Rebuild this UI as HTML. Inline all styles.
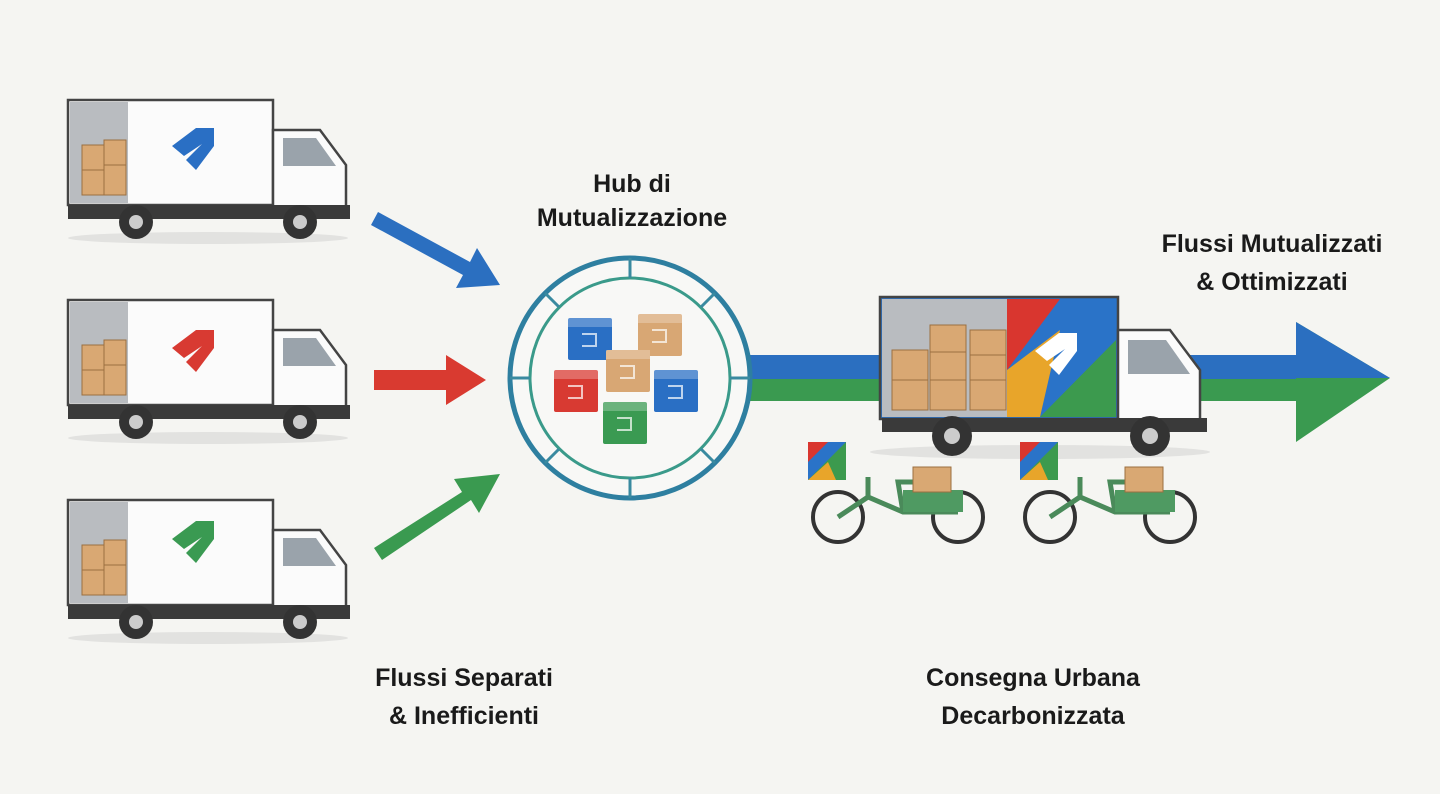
<!DOCTYPE html>
<html><head><meta charset="utf-8"><style>
html,body{margin:0;padding:0;background:#f5f5f2;}
svg{display:block}
text{font-family:"Liberation Sans",sans-serif;font-weight:bold;fill:#1a1a1a;font-size:25px;text-anchor:middle}
</style></head><body>
<svg width="1440" height="794" viewBox="0 0 1440 794">
<defs>
<g id="truck">
  <ellipse cx="140" cy="138" rx="140" ry="6" fill="#e2e2e0"/>
  <rect x="0" y="0" width="205" height="105" fill="#fbfbfb" stroke="#444" stroke-width="2.5"/>
  <rect x="2" y="2" width="58" height="101" fill="#b9bcc0"/>
  <rect x="14" y="45" width="22" height="25" fill="#d9a873" stroke="#9c6f40"/>
  <rect x="14" y="70" width="22" height="25" fill="#d9a873" stroke="#9c6f40"/>
  <rect x="36" y="40" width="22" height="25" fill="#d9a873" stroke="#9c6f40"/>
  <rect x="36" y="65" width="22" height="30" fill="#d9a873" stroke="#9c6f40"/>
  <path d="M205 30 H252 L278 65 V110 H205 Z" fill="#fbfbfb" stroke="#444" stroke-width="2.5"/>
  <path d="M215 38 H248 L268 66 H215 Z" fill="#9aa3ab"/>
  <rect x="0" y="105" width="282" height="14" fill="#3a3a3a"/>
  <circle cx="68" cy="122" r="17" fill="#333"/><circle cx="68" cy="122" r="7" fill="#ccc"/>
  <circle cx="232" cy="122" r="17" fill="#333"/><circle cx="232" cy="122" r="7" fill="#ccc"/>
</g>
<g id="logo"><path d="M-20 -4 L4 -22 L22 -22 L22 -4 L4 20 L-6 10 L10 -6 L-8 6 Z"/></g>
<g id="box"><rect x="0" y="0" width="44" height="42" rx="2"/><rect x="0" y="0" width="44" height="9" fill="#fff" opacity=".25"/><path d="M14 16 h14 v12 h-14" fill="none" stroke="#fff" stroke-width="2" opacity=".7"/></g>
<g id="bike">
  <circle cx="30" cy="75" r="25" fill="none" stroke="#333" stroke-width="4"/>
  <circle cx="150" cy="75" r="25" fill="none" stroke="#333" stroke-width="4"/>
  <path d="M30 75 L60 55 L95 70 H150 M60 55 L60 35 M95 70 L90 40 L105 40" stroke="#4a8a5a" stroke-width="5" fill="none"/>
  <rect x="95" y="48" width="60" height="22" fill="#4f9a62"/>
  <rect x="105" y="25" width="38" height="25" fill="#d9a873" stroke="#9c6f40"/>
  <rect x="0" y="0" width="38" height="38" fill="#2a73c8"/>
  <path d="M0 38 L38 0 V38 Z" fill="#3c9a4e"/><path d="M0 38 L20 20 L28 38Z" fill="#e8a52a"/>
  <path d="M0 0 H20 L0 20Z" fill="#d9362f"/>
</g>
</defs>

<use href="#truck" x="68" y="100"/>
<use href="#logo" x="192" y="150" fill="#2a6fc4"/>
<use href="#truck" x="68" y="300"/>
<use href="#logo" x="192" y="352" fill="#d83a32"/>
<use href="#truck" x="68" y="500"/>
<use href="#logo" x="192" y="543" fill="#3a9a52"/>

<path d="M378 212 L470 262 L477 248 L500 285 L456 288 L463 275 L371 225 Z" fill="#2b6fc0"/>
<path d="M374 370 H446 V355 L486 380 L446 405 V390 H374 Z" fill="#d93a30"/>
<path d="M374 548 L462 492 L454 479 L500 474 L479 513 L471 500 L382 560 Z" fill="#3a9a50"/>

<rect x="740" y="355" width="570" height="24" fill="#2b6fc0"/>
<rect x="740" y="379" width="570" height="22" fill="#3a9a50"/>
<path d="M1296 322 L1390 378 L1296 442 Z" fill="#3a9a50"/>
<path d="M1296 322 L1390 378 L1296 378 Z" fill="#2b6fc0"/>

<circle cx="630" cy="378" r="120" fill="#f8f8f6" stroke="#2e7fa0" stroke-width="5"/>
<circle cx="630" cy="378" r="100" fill="none" stroke="#3a9a8a" stroke-width="3"/>
<g stroke="#3a8aa0" stroke-width="3">
<line x1="630" y1="258" x2="630" y2="278"/><line x1="630" y1="478" x2="630" y2="498"/>
<line x1="510" y1="378" x2="530" y2="378"/><line x1="730" y1="378" x2="750" y2="378"/>
<line x1="545" y1="293" x2="559" y2="307"/><line x1="715" y1="293" x2="701" y2="307"/>
<line x1="545" y1="463" x2="559" y2="449"/><line x1="715" y1="463" x2="701" y2="449"/>
</g>
<use href="#box" x="638" y="314" fill="#d8a774"/>
<use href="#box" x="568" y="318" fill="#2a6fc4"/>
<use href="#box" x="606" y="350" fill="#d8a774"/>
<use href="#box" x="554" y="370" fill="#d83a32"/>
<use href="#box" x="654" y="370" fill="#2a6fc4"/>
<use href="#box" x="603" y="402" fill="#3a9a52"/>

<ellipse cx="1040" cy="452" rx="170" ry="7" fill="#e2e2e0"/>
<rect x="880" y="297" width="238" height="122" fill="#2a73c8" stroke="#444" stroke-width="2.5"/>
<rect x="882" y="299" width="125" height="118" fill="#b9bcc0"/>
<path d="M1007 299 H1060 L1007 370Z" fill="#d9362f"/>
<path d="M1007 370 L1060 330 L1040 417 H1007Z" fill="#e8a52a"/>
<path d="M1040 417 L1116 340 V417Z" fill="#3c9a4e"/>
<g fill="#d9a873" stroke="#9c6f40">
<rect x="892" y="350" width="36" height="30"/><rect x="892" y="380" width="36" height="30"/>
<rect x="930" y="325" width="36" height="27"/><rect x="930" y="352" width="36" height="28"/><rect x="930" y="380" width="36" height="30"/>
<rect x="970" y="330" width="36" height="25"/><rect x="970" y="355" width="36" height="25"/><rect x="970" y="380" width="36" height="30"/>
</g>
<use href="#logo" x="1055" y="355" fill="#fff"/>
<path d="M1118 330 H1170 L1200 370 V420 H1118 Z" fill="#fbfbfb" stroke="#444" stroke-width="2.5"/>
<path d="M1128 340 H1166 L1190 374 H1128 Z" fill="#9aa3ab"/>
<rect x="882" y="418" width="325" height="14" fill="#3a3a3a"/>
<circle cx="952" cy="436" r="20" fill="#333"/><circle cx="952" cy="436" r="8" fill="#ccc"/>
<circle cx="1150" cy="436" r="20" fill="#333"/><circle cx="1150" cy="436" r="8" fill="#ccc"/>

<use href="#bike" x="808" y="442"/>
<use href="#bike" x="1020" y="442"/>

<text x="632" y="192">Hub di</text>
<text x="632" y="226">Mutualizzazione</text>
<text x="1272" y="252">Flussi Mutualizzati</text>
<text x="1272" y="290">&amp; Ottimizzati</text>
<text x="464" y="686">Flussi Separati</text>
<text x="464" y="724">&amp; Inefficienti</text>
<text x="1033" y="686">Consegna Urbana</text>
<text x="1033" y="724">Decarbonizzata</text>
</svg>
</body></html>
